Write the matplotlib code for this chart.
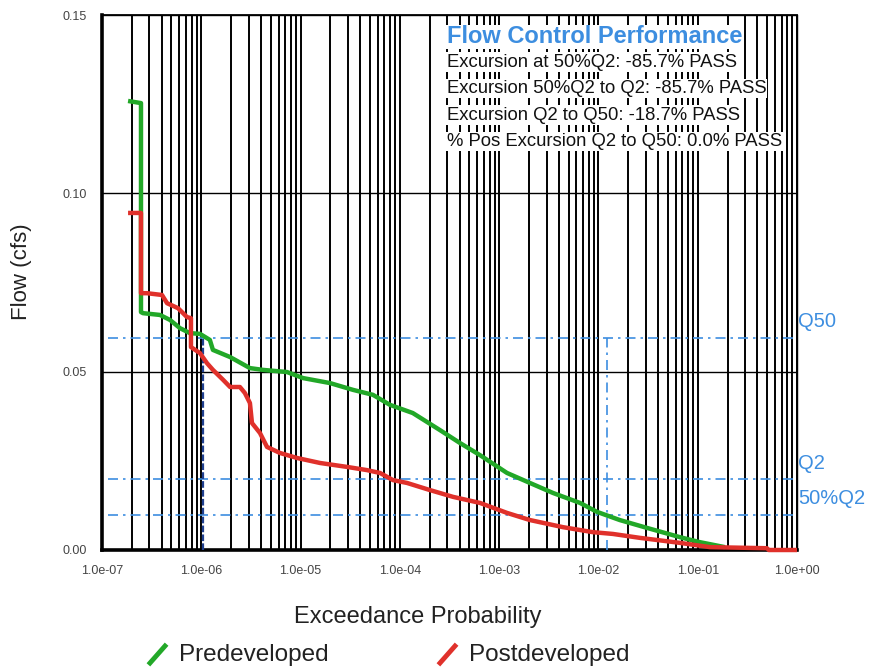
import matplotlib
matplotlib.use("Agg")
import matplotlib.pyplot as plt
from matplotlib.lines import Line2D
from matplotlib.ticker import FixedLocator, LogLocator, NullFormatter

plt.rcParams['font.family'] = ['Liberation Sans', 'DejaVu Sans']

# ---- data ----
pre_prob = [1.83e-7, 2.47e-7, 2.47e-7, 2.59e-7, 3.84e-7, 4.84e-7, 6.10e-7, 7.69e-7, 9.7e-7,
            1.22e-6, 1.31e-6, 1.95e-6, 3.09e-6, 4.18e-6, 7.29e-6, 1.06e-5, 1.98e-5, 3.37e-5,
            5.36e-5, 7.94e-5, 1.35e-4, 2.54e-4, 4.03e-4, 6.41e-4, 1.20e-3, 2.04e-3, 3.48e-3,
            6.52e-3, 9.66e-3, 1.64e-2, 3.08e-2, 6.62e-2, 1.05e-1, 1.88e-1]
pre_flow = [0.1259, 0.1253, 0.0667, 0.0664, 0.0659, 0.0645, 0.0622, 0.0608, 0.0606,
            0.0589, 0.0561, 0.0541, 0.0510, 0.0505, 0.0499, 0.0482, 0.0468, 0.0449,
            0.0435, 0.0407, 0.0384, 0.0336, 0.0300, 0.0266, 0.0216, 0.0188, 0.0160,
            0.0132, 0.0107, 0.0084, 0.0062, 0.0036, 0.0022, 0.0008]

post_prob = [1.83e-7, 2.47e-7, 2.47e-7, 2.84e-7, 4.02e-7, 4.52e-7, 5.83e-7, 7.18e-7, 7.87e-7,
             7.87e-7, 9.7e-7, 1.14e-6, 1.31e-6, 1.66e-6, 1.95e-6, 2.45e-6, 2.75e-6, 3.09e-6,
             3.24e-6, 3.90e-6, 4.59e-6, 6.21e-6, 9.21e-6, 1.57e-5, 2.93e-5, 4.66e-5, 6.31e-5,
             8.53e-5, 1.18e-4, 2.01e-4, 3.43e-4, 6.41e-4, 1.20e-3, 2.04e-3, 4.40e-3, 8.81e-3,
             1.40e-2, 2.62e-2, 6.62e-2, 1.33e-1, 0.498, 0.52, 1.0]
post_flow = [0.0945, 0.0945, 0.0720, 0.0720, 0.0715, 0.0692, 0.0678, 0.0653, 0.0650,
             0.0569, 0.0552, 0.0524, 0.0505, 0.0477, 0.0457, 0.0457, 0.0440, 0.0412,
             0.0356, 0.0328, 0.0289, 0.0272, 0.0258, 0.0244, 0.0233, 0.0224, 0.0216,
             0.0196, 0.0188, 0.0168, 0.0149, 0.0132, 0.0104, 0.0084, 0.0064, 0.0050,
             0.0045, 0.0034, 0.0020, 0.0008, 0.0005, 0.0, 0.0]

q50 = 0.0595
q2 = 0.0199
half_q2 = 0.00995
q50_prob = 1.22e-2
half_q2_prob = 1.04e-6
line_start = 1.15e-7

x_ticks = [1e-7, 1e-6, 1e-5, 1e-4, 1e-3, 1e-2, 1e-1, 1e0]
x_labels = ["1.0e-07", "1.0e-06", "1.0e-05", "1.0e-04", "1.0e-03", "1.0e-02", "1.0e-01", "1.0e+00"]
y_ticks = [0.0, 0.05, 0.10, 0.15]
y_labels = ["0.00", "0.05", "0.10", "0.15"]

perf_title = "Flow Control Performance"
perf_lines = ["Excursion at 50%Q2: -85.7% PASS",
              "Excursion 50%Q2 to Q2: -85.7% PASS",
              "Excursion Q2 to Q50: -18.7% PASS",
              "% Pos Excursion Q2 to Q50: 0.0% PASS"]

GREEN = "#22a828"
RED = "#e0312b"
BLUE = "#3d8ee0"
NAVY = "#1f3f8f"

fig = plt.figure(figsize=(8.69, 6.68), dpi=100)
ax = fig.add_axes([102/869, (668-550)/668, 695/869, 535/668])
ax.set_xscale('log')
ax.set_xlim(1e-7, 1.0)
ax.set_ylim(0, 0.15)

# grid
ax.xaxis.set_major_locator(FixedLocator(x_ticks))
ax.xaxis.set_minor_locator(LogLocator(base=10, subs=range(2, 10), numticks=20))
ax.xaxis.set_minor_formatter(NullFormatter())
ax.set_xticklabels(x_labels)
ax.set_yticks(y_ticks)
ax.set_yticklabels(y_labels)
ax.grid(True, which='major', axis='x', color='black', linewidth=1.4)
ax.grid(True, which='minor', axis='x', color='black', linewidth=1.4)
ax.grid(True, which='major', axis='y', color='black', linewidth=1.0)
ax.tick_params(which='both', length=0)
ax.tick_params(axis='x', labelsize=9, labelcolor='#444444', pad=11)
ax.tick_params(axis='y', labelsize=9, labelcolor='#444444', pad=11)
ax.set_axisbelow(True)
for s in ['left', 'bottom']:
    ax.spines[s].set_linewidth(2.6)
ax.spines['top'].set_linewidth(1.3)
ax.spines['right'].set_linewidth(1.0)

# threshold lines
for q in (q50, q2, half_q2):
    ax.plot([line_start, 1.0], [q, q], color=BLUE, lw=1.2, dashes=(6, 3, 1.5, 3), zorder=3)
ax.plot([q50_prob, q50_prob], [0, q50], color=BLUE, lw=1.2, dashes=(6, 3, 1.5, 3), zorder=3)
ax.plot([half_q2_prob, half_q2_prob], [0, q50], color=NAVY, lw=1.6, dashes=(3, 1), zorder=3)

# curves
ax.plot(pre_prob, pre_flow, color=GREEN, lw=3.2, zorder=4, solid_capstyle='butt')
ax.plot(post_prob, post_flow, color=RED, lw=3.2, zorder=5, solid_capstyle='butt', clip_on=False)

# Q labels
trans = ax.get_yaxis_transform()
for q, lab in [(q50, "Q50"), (q2, "Q2"), (half_q2, "50%Q2")]:
    ax.text(1.002, q + 0.0018, lab, transform=trans, color=BLUE, fontsize=14.5,
            ha='left', va='bottom')

# performance box
ax.text(0.496, 0.959, perf_title, transform=ax.transAxes, color=BLUE, fontsize=17,
        fontweight='bold', ha='left', va='center',
        bbox=dict(facecolor='white', edgecolor='none', pad=0.5), zorder=6)
ys = [0.912, 0.862, 0.813, 0.764]
for yy, t in zip(ys, perf_lines):
    ax.text(0.496, yy, t, transform=ax.transAxes, color='#111111', fontsize=13.3,
            ha='left', va='center', bbox=dict(facecolor='white', edgecolor='none', pad=0.8), zorder=6)

# axis labels
fig.text(22/869, 1 - 272/668, "Flow (cfs)", rotation=90, fontsize=16, ha='center', va='center', color='#222222')
fig.text(418/869, 1 - 617/668, "Exceedance Probability", fontsize=17, ha='center', va='center', color='#222222')

# legend
for x0, col, lab in [(150, GREEN, "Predeveloped"), (440, RED, "Postdeveloped")]:
    fig.add_artist(Line2D([x0/869, (x0+15)/869], [1 - 663/668, 1 - 646/668], color=col, lw=3.5,
                          transform=fig.transFigure))
    fig.text((x0+29)/869, 1 - 655/668, lab, fontsize=17.5, ha='left', va='center', color='#222222')

fig.savefig("out.png", dpi=100)
